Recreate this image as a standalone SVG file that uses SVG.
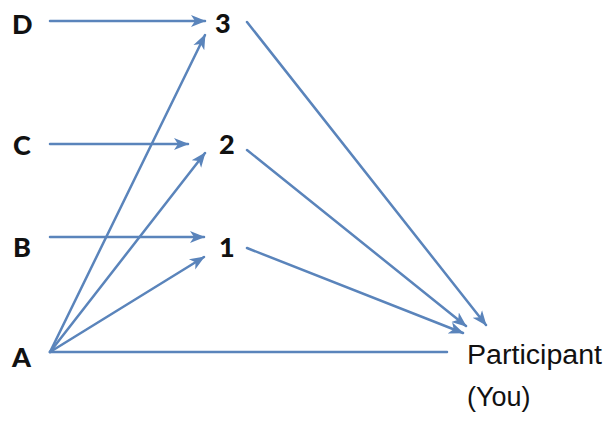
<svg xmlns="http://www.w3.org/2000/svg" width="611" height="421" viewBox="0 0 611 421">
<style>
.lbl{font-family:Lato,"Liberation Sans",sans-serif;font-weight:900;font-size:27px;fill:#111}
.p{font-family:"Liberation Sans",Arial,sans-serif;font-size:27px;fill:#111}
.c{stroke:#5a84bb;stroke-width:2.5;fill:none;stroke-linecap:round}
.a{marker-end:url(#ah)}
</style>
<defs>
<marker id="ah" markerUnits="userSpaceOnUse" markerWidth="16" markerHeight="14" viewBox="0 0 16 14" refX="14" refY="7" orient="auto">
<path d="M0,1 L15,7 L0,13 L4,7 Z" fill="#5a84bb"/>
</marker>
</defs>
<rect width="611" height="421" fill="#fff"/>
<g id="connectors">
<line class="c a" x1="50" y1="21" x2="205" y2="21"/>
<line class="c a" x1="50" y1="352" x2="205" y2="35"/>
<line class="c a" x1="50" y1="144" x2="188" y2="144"/>
<line class="c a" x1="50" y1="352" x2="205" y2="153"/>
<line class="c a" x1="50" y1="237" x2="204" y2="237"/>
<line class="c a" x1="50" y1="352" x2="204" y2="257"/>
<line class="c a" x1="247" y1="22" x2="486" y2="325"/>
<line class="c a" x1="247" y1="150" x2="466" y2="326"/>
<line class="c a" x1="247" y1="248" x2="463" y2="333"/>
<line class="c" x1="50" y1="352" x2="447" y2="352"/>
</g>
<g id="node-D"><text class="lbl" x="12" y="34">D</text></g>
<g id="node-C"><text class="lbl" x="13" y="155">C</text></g>
<g id="node-B"><text class="lbl" x="13" y="257">B</text></g>
<g id="node-A"><text class="lbl" x="12" y="367">A</text></g>
<g id="node-3"><text class="lbl" x="215" y="33">3</text></g>
<g id="node-2"><text class="lbl" x="219" y="154">2</text></g>
<g id="node-1"><text class="lbl" x="219" y="257">1</text></g>
<g id="node-participant">
<text class="p" x="467" y="364" textLength="135" lengthAdjust="spacingAndGlyphs">Participant</text>
<text class="p" x="467" y="406">(You)</text>
</g>
</svg>
